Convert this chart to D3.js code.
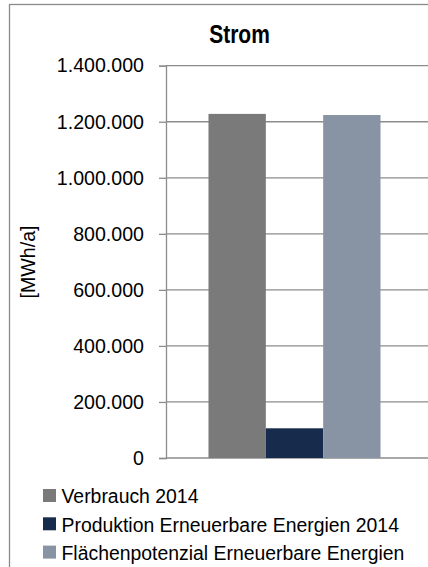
<!DOCTYPE html>
<html>
<head>
<meta charset="utf-8">
<script src="https://cdn.jsdelivr.net/npm/d3@7"></script>
<style>
  body { margin: 0; background: #fff; }
  svg { display: block; font-family: "Liberation Sans", Arial, sans-serif; }
</style>
</head>
<body>
<svg width="428" height="567"></svg>
<script>
const title = 'Strom';
const categories = ['Strom'];
const series = ['Verbrauch 2014', 'Produktion Erneuerbare Energien 2014', 'Flächenpotenzial Erneuerbare Energien'];
const values = [1228000, 106000, 1224000];
const colors = ['#7a7a7a', '#172b4d', '#8893a4'];
const yTicks = [0, 200000, 400000, 600000, 800000, 1000000, 1200000, 1400000];
const yLabel = '[MWh/a]';

const de = d3.formatLocale({decimal: ',', thousands: '.', grouping: [3], currency: ['', ' €']});
const fmt = de.format(',d');

const svg = d3.select('svg');
const plot = {left: 166, right: 423, top: 65.7, bottom: 458};

// outer frame (runs off the right and bottom edges)
svg.append('rect')
  .attr('x', 9.5).attr('y', 4.5)
  .attr('width', 440).attr('height', 580)
  .attr('fill', 'none')
  .attr('stroke', '#8a8a8a')
  .attr('stroke-width', 1.3);

const y = d3.scaleLinear()
  .domain([0, 1400000])
  .range([plot.bottom, plot.top]);

const x0 = d3.scaleBand()
  .domain(categories)
  .range([plot.left, plot.right])
  .paddingOuter(0.247)
  .paddingInner(0);

const x1 = d3.scaleBand()
  .domain(series)
  .range([0, x0.bandwidth()])
  .padding(0);

// grid lines
svg.append('g')
  .selectAll('line')
  .data(yTicks)
  .join('line')
  .attr('x1', plot.left).attr('x2', 428)
  .attr('y1', d => y(d)).attr('y2', d => y(d))
  .attr('stroke', '#8c8c8c')
  .attr('stroke-width', 1.3);

// y axis
const yAxis = svg.append('g')
  .attr('transform', `translate(${plot.left},0)`)
  .call(d3.axisLeft(y).tickValues(yTicks).tickSize(7).tickPadding(15).tickFormat(fmt));
yAxis.select('.domain').attr('stroke', '#8c8c8c').attr('stroke-width', 1.3);
yAxis.selectAll('.tick line').attr('stroke', '#8c8c8c').attr('stroke-width', 1.3);
yAxis.selectAll('.tick text')
  .attr('fill', '#000')
  .style('font-size', '19.6px')
  .style('font-family', '"Liberation Sans", Arial, sans-serif');

// bars
svg.append('g')
  .selectAll('rect')
  .data(series.map((s, i) => ({cat: categories[0], name: s, value: values[i], color: colors[i]})))
  .join('rect')
  .attr('x', d => x0(d.cat) + x1(d.name))
  .attr('y', d => y(d.value))
  .attr('width', x1.bandwidth())
  .attr('height', d => y(0) - y(d.value))
  .attr('fill', d => d.color);

// title
svg.append('text')
  .attr('transform', 'translate(239.5,42.5) scale(1,1.22)')
  .attr('text-anchor', 'middle')
  .style('font-size', '21px')
  .style('font-weight', 'bold')
  .text(title);

// y label
svg.append('text')
  .attr('transform', 'translate(35,262) rotate(-90)')
  .attr('text-anchor', 'middle')
  .style('font-size', '19.6px')
  .text(yLabel);

// legend
const legend = svg.append('g')
  .selectAll('g')
  .data(series)
  .join('g')
  .attr('transform', (d, i) => `translate(43,${489 + i * 28.3})`);
legend.append('rect')
  .attr('width', 13).attr('height', 13)
  .attr('fill', (d, i) => colors[i]);
legend.append('text')
  .attr('x', 18.5).attr('y', 14.3)
  .style('font-size', '19.4px')
  .text(d => d);
</script>
</body>
</html>
